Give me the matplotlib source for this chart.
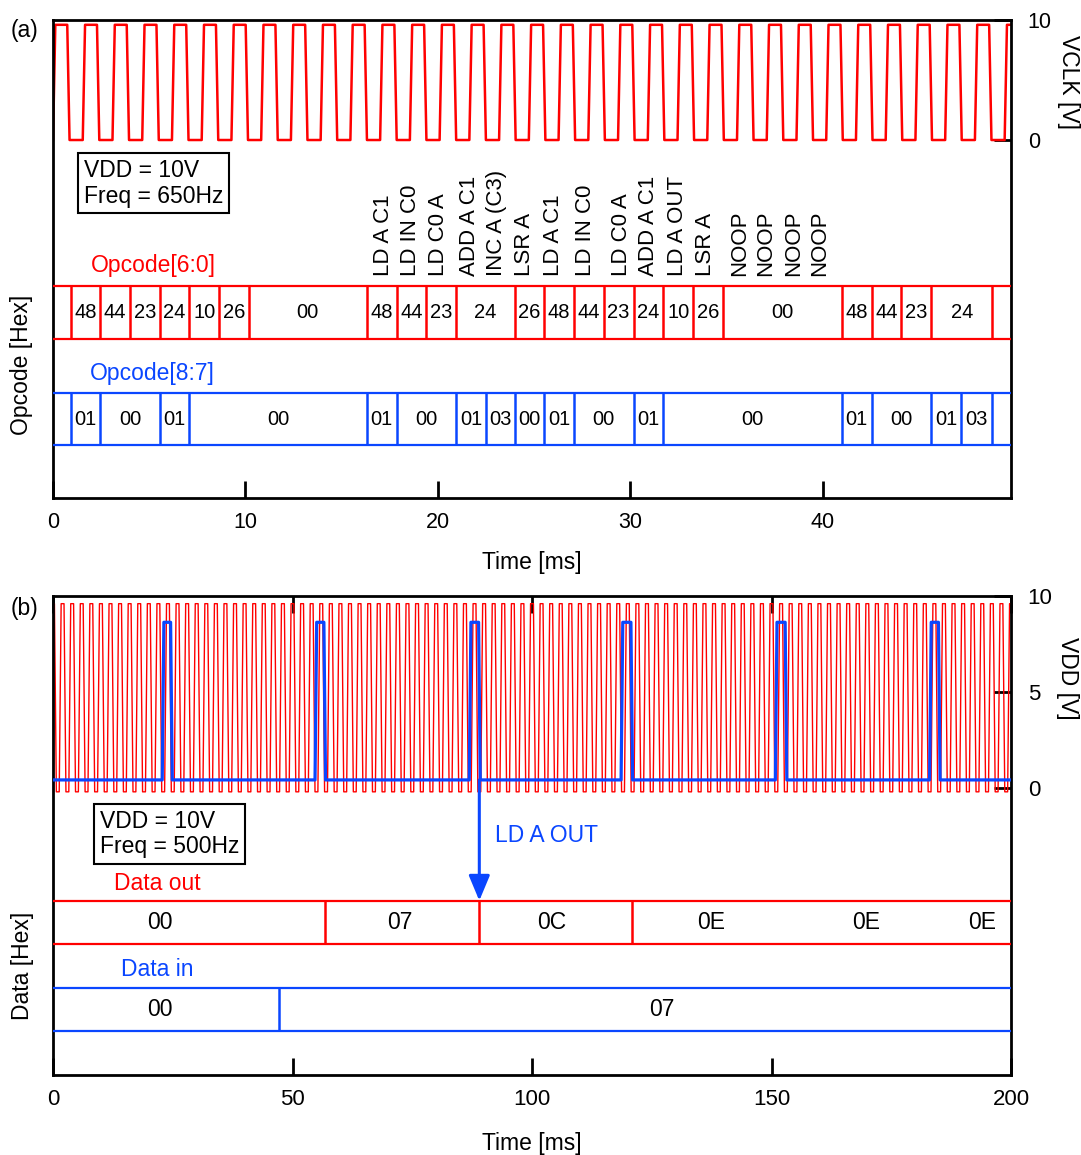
import numpy as np
import matplotlib.pyplot as plt

plt.rcParams['font.family'] = ['Liberation Sans', 'DejaVu Sans']

RED = '#ff0000'
BLUE = '#0a46ff'

# ---------------- (a) opcode timing, 650 Hz clock ----------------
clk_a_period = 1.545      # ms (Freq = 650Hz)
clk_a_levels = (0.0, 9.6)  # V low / high
t_end_a = 49.77

# Opcode[6:0] bus: transition times [ms] and the value after each
op6_edges = [0.92, 2.46, 4.00, 5.55, 7.09, 8.63, 10.17, 16.30, 17.85, 19.39,
             20.94, 23.98, 25.52, 27.07, 28.61, 30.16, 31.71, 33.25, 34.80,
             40.98, 42.53, 44.07, 45.62, 48.80]
op6_vals = ['', '48', '44', '23', '24', '10', '26', '00',
            '48', '44', '23', '24', '26',
            '48', '44', '23', '24', '10', '26', '00',
            '48', '44', '23', '24', '']

# Opcode[8:7] bus
op8_edges = [0.92, 2.46, 5.55, 7.09, 16.30, 17.85, 20.94, 22.48, 23.98, 25.52,
             27.07, 30.16, 31.71, 40.98, 42.53, 45.62, 47.16, 48.80]
op8_vals = ['', '01', '00', '01', '00', '01', '00', '01', '03', '00', '01',
            '00', '01', '00', '01', '00', '01', '03', '']

# instruction names written above the second program pass
instr_names = ['LD A C1', 'LD IN C0', 'LD C0 A', 'ADD A C1', 'INC A (C3)', 'LSR A',
               'LD A C1', 'LD IN C0', 'LD C0 A', 'ADD A C1', 'LD A OUT', 'LSR A',
               'NOOP', 'NOOP', 'NOOP', 'NOOP']
instr_t = [17.16, 18.58, 20.05, 21.66, 23.05, 24.52, 25.99, 27.69, 29.51, 30.92,
           32.45, 33.92, 35.65, 37.04, 38.46, 39.84]

# ---------------- (b) data bus, 500 Hz clock ----------------
clk_b_period = 2.0
clk_b_levels = (-0.2, 9.6)
t_end_b = 200.0

# output strobe pulses (blue trace)
pulse_on = [22.8, 54.7, 86.9, 118.6, 150.8, 183.0]
pulse_off = [24.9, 56.9, 89.2, 121.0, 153.2, 185.2]
pulse_levels = (0.42, 8.63)

data_out_edges = [56.8, 89.0, 120.9, 152.9, 185.0]
data_out_vals = ['00', '07', '0C', '0E', '0E', '0E']
data_out_label_t = [22.3, 72.4, 104.2, 137.4, 169.7, 194.0]

data_in_edges = [47.1]
data_in_vals = ['00', '07']
data_in_label_t = [22.3, 127.2]

arrow_t = 89.0


def clock_wave(period, t_end, levels, ramp, high_len, phase):
    lo, hi = levels
    t, v = [], []
    s = phase
    while s < t_end + period:
        t += [s, s + ramp, s + ramp + high_len, s + 2 * ramp + high_len]
        v += [lo, hi, hi, lo]
        s += period
    return np.array(t), np.array(v)


def draw_bus(ax, edges, vals, y_top, y_bot, color, t_end, fs, label_t=None):
    ax.hlines([y_top, y_bot], 0, t_end, color=color, lw=1.6, zorder=3)
    for i, e in enumerate(edges):
        if vals[i] != vals[i + 1]:
            ax.vlines(e, y_bot, y_top, color=color, lw=1.8, zorder=3)
    bounds = [0] + list(edges) + [t_end]
    for i, val in enumerate(vals):
        if not val:
            continue
        x = label_t[i] if label_t else 0.5 * (bounds[i] + bounds[i + 1])
        ax.text(x, 0.5 * (y_top + y_bot), val, ha='center', va='center',
                fontsize=fs, color='black')


def style_axes(ax, xticks, yticks, top_ticks, fs):
    for sp in ax.spines.values():
        sp.set_linewidth(2.0)
    ax.yaxis.tick_right()
    ax.set_yticks(yticks)
    ax.set_xticks(xticks)
    ax.tick_params(axis='y', direction='in', length=12, width=2,
                   labelsize=fs, pad=12)
    ax.tick_params(axis='x', direction='in', length=12, width=2,
                   labelsize=fs, pad=10, top=top_ticks)


fig = plt.figure(figsize=(10.81, 11.55), dpi=100)
W, H = 1081, 1155

# ---------- panel (a) ----------
ax1 = fig.add_axes([53 / W, 1 - 498 / H, 958 / W, 478 / H])
ax1.set_xlim(0, t_end_a)
ax1.set_ylim(-29.83, 10)

t, v = clock_wave(clk_a_period, t_end_a, clk_a_levels, 0.12, 0.62, 0.0)
ax1.plot(t, v, color=RED, lw=1.8)

draw_bus(ax1, op6_edges, op6_vals, -12.14, -16.61, RED, t_end_a + 1, 14.5)
draw_bus(ax1, op8_edges, op8_vals, -21.11, -25.42, BLUE, t_end_a + 1, 14.5)

ax1.text(1.97, -10.42, 'Opcode[6:0]', color=RED, fontsize=16.5,
         ha='left', va='center')
ax1.text(1.92, -19.42, 'Opcode[8:7]', color=BLUE, fontsize=16.5,
         ha='left', va='center')
for name, x in zip(instr_names, instr_t):
    ax1.text(x, -11.33, name, rotation=90, ha='center', va='bottom',
             fontsize=16)

ax1.text(1.61, -3.6, 'VDD = 10V\nFreq = 650Hz', fontsize=16.5, ha='left',
         va='center', linespacing=1.15,
         bbox=dict(boxstyle='square,pad=0.25', fc='white', ec='black', lw=1.5))

style_axes(ax1, [0, 10, 20, 30, 40], [0, 10], False, 15.5)
ax1.text(0.5, -0.134, 'Time [ms]', transform=ax1.transAxes, ha='center',
         va='center', fontsize=16.5)
ax1.text(-0.0324, 0.278, 'Opcode [Hex]', transform=ax1.transAxes,
         rotation=90, ha='center', va='center', fontsize=16.5)
ax1.text(1.0595, 0.870, 'VCLK [V]', transform=ax1.transAxes,
         rotation=270, ha='center', va='center', fontsize=16.5)

# ---------- panel (b) ----------
ax2 = fig.add_axes([53 / W, 1 - 1075 / H, 958 / W, 479 / H])
ax2.set_xlim(0, t_end_b)
ax2.set_ylim(-14.95, 10)

t, v = clock_wave(clk_b_period, t_end_b, clk_b_levels, 0.4, 0.6, -0.7)
ax2.plot(t, v, color=RED, lw=1.0)

lo, hi = pulse_levels
ramp = 0.35
pt, pv = [0.0], [lo]
for on, off in zip(pulse_on, pulse_off):
    pt += [on, on + ramp, off - ramp, off]
    pv += [lo, hi, hi, lo]
pt.append(t_end_b)
pv.append(lo)
ax2.plot(pt, pv, color=BLUE, lw=2.3, zorder=4)

draw_bus(ax2, data_out_edges, data_out_vals, -5.87, -8.14, RED, t_end_b + 2,
         16.5, data_out_label_t)
draw_bus(ax2, data_in_edges, data_in_vals, -10.43, -12.66, BLUE, t_end_b + 2,
         16.5, data_in_label_t)

ax2.annotate('', xy=(arrow_t, -5.87), xytext=(arrow_t, 0.42),
             arrowprops=dict(arrowstyle='-|>,head_length=0.55,head_width=0.23',
                             mutation_scale=28, color=BLUE, lw=2.2,
                             shrinkA=0, shrinkB=0), zorder=5)
ax2.text(92.3, -2.45, 'LD A OUT', color=BLUE, fontsize=16.5,
         ha='left', va='center')
ax2.text(12.7, -4.95, 'Data out', color=RED, fontsize=16.5,
         ha='left', va='center')
ax2.text(14.2, -9.43, 'Data in', color=BLUE, fontsize=16.5,
         ha='left', va='center')

ax2.text(9.8, -2.4, 'VDD = 10V\nFreq = 500Hz', fontsize=16.5, ha='left',
         va='center', linespacing=1.15,
         bbox=dict(boxstyle='square,pad=0.25', fc='white', ec='black', lw=1.5))

style_axes(ax2, [0, 50, 100, 150, 200], [0, 5, 10], True, 16)
ax2.text(0.5, -0.142, 'Time [ms]', transform=ax2.transAxes, ha='center',
         va='center', fontsize=16.5)
ax2.text(-0.0318, 0.2276, 'Data [Hex]', transform=ax2.transAxes,
         rotation=90, ha='center', va='center', fontsize=16.5)
ax2.text(1.0585, 0.829, 'VDD [V]', transform=ax2.transAxes,
         rotation=270, ha='center', va='center', fontsize=16.5)

fig.text(24 / W, 1 - 30 / H, '(a)', fontsize=16.5, ha='center', va='center')
fig.text(24 / W, 1 - 609 / H, '(b)', fontsize=16.5, ha='center', va='center')

fig.savefig('out.png', dpi=100)
